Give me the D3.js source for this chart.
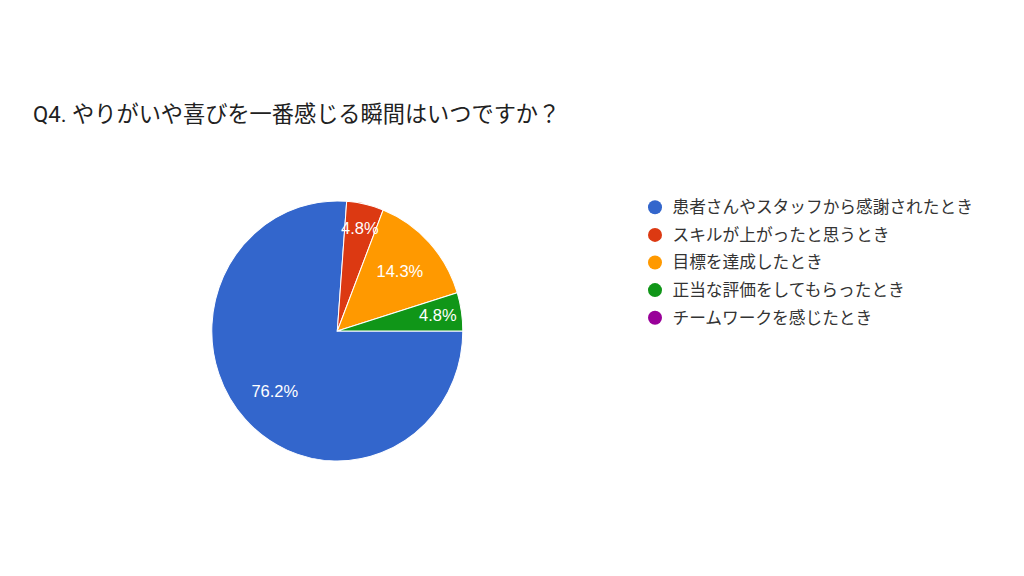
<!DOCTYPE html>
<html><head><meta charset="utf-8">
<script src="https://cdn.jsdelivr.net/npm/d3@7"></script>
<style>
html,body{margin:0;padding:0;background:#fff;}
</style></head>
<body>
<svg id="c" width="1024" height="576"></svg>
<script>
const title = "Q4. やりがいや喜びを一番感じる瞬間はいつですか？";
const categories = ["患者さんやスタッフから感謝されたとき","スキルが上がったと思うとき","目標を達成したとき","正当な評価をしてもらったとき","チームワークを感じたとき"];
const counts = [16, 1, 3, 1, 0];
const colors = ["#3366cc","#dc3912","#ff9900","#109618","#990099"];

const svg = d3.select("#c");
svg.append("rect").attr("width",1024).attr("height",576).attr("fill","#fff");

svg.append("text").attr("x",33).attr("y",122)
  .style("font-family","Roboto,'Noto Sans CJK JP',sans-serif")
  .attr("font-size",22.2).attr("fill","#212121").text(title);

const cx = 337.3, cy = 331, R = 125.5, sy = 1.036;
const total = d3.sum(counts);
const data = categories.map((c,i)=>({c, v:counts[i], col:colors[i]}));
const pie = d3.pie().value(d=>d.v).sort(null).startAngle(Math.PI/2).endAngle(Math.PI/2 + 2*Math.PI);
const arcs = pie(data).filter(a=>a.data.v>0);
const arc = d3.arc().innerRadius(0).outerRadius(R);

const g = svg.append("g").attr("transform",`translate(${cx},${cy}) scale(1,${sy})`);
g.selectAll("path").data(arcs).join("path")
  .attr("d",arc).attr("fill",d=>d.data.col)
  .attr("stroke","#fff").attr("stroke-width",1);

const fmt = v => (v/total*100).toFixed(1)+"%";
g.selectAll("text.lbl").data(arcs).join("text").attr("class","lbl")
  .each(function(d){
    const share = d.data.v/total;
    const r = share < 0.1 ? 0.81*R : 0.68*R;
    const a = (d.startAngle+d.endAngle)/2;
    d3.select(this).attr("x", r*Math.sin(a)).attr("y", -r*Math.cos(a));
  })
  .attr("text-anchor","middle").attr("dy","0.36em")
  .style("font-family","'Liberation Sans',Arial,sans-serif")
  .attr("font-size",16.5).attr("fill","#fff")
  .text(d=>fmt(d.data.v));

const leg = svg.append("g");
const ly = d3.scaleBand().domain(categories).range([193.5, 331.5]);
const items = leg.selectAll("g").data(data).join("g")
  .attr("transform",d=>`translate(655,${ly(d.c)+ly.bandwidth()/2})`);
items.append("circle").attr("r",7).attr("fill",d=>d.col);
items.append("text").attr("x",17.5).attr("dy","0.35em")
  .attr("font-size",16.7).attr("fill","#333")
  .style("font-family","Roboto,'Noto Sans CJK JP',sans-serif")
  .text(d=>d.c);
</script>
</body></html>
